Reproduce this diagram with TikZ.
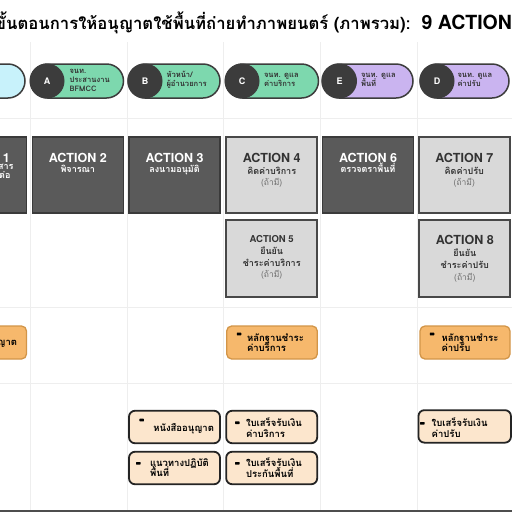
\documentclass[tikz,border=0pt]{standalone}
\usepackage{fontspec}
\newfontfamily\thai[Script=Thai]{Loma}
\newfontfamily\heros{TeX Gyre Heros}
\definecolor{sepc}{HTML}{EEEEEE}
\definecolor{darkbox}{HTML}{5A5A5A}
\definecolor{darkline}{HTML}{3A3A3A}
\definecolor{lightbox}{HTML}{D9D9D9}
\definecolor{lightline}{HTML}{484848}
\definecolor{mint}{HTML}{7DD8AE}
\definecolor{lilac}{HTML}{CAB4F0}
\definecolor{cyanp}{HTML}{C8F2FB}
\definecolor{circc}{HTML}{3C3C3C}
\definecolor{orangef}{HTML}{F6B86C}
\definecolor{oranged}{HTML}{D29548}
\definecolor{beigef}{HTML}{FCE6CD}
\definecolor{beiged}{HTML}{242424}
\definecolor{txtdark}{HTML}{333333}
\definecolor{optgray}{HTML}{6A6A6A}
\begin{document}
\begin{tikzpicture}[x=1pt,y=-1pt,
  tz/.style={inner sep=0pt,outer sep=0pt},
  sepline/.style={draw=sepc,line width=1pt},
  pillbox/.style={tz,draw=circc,line width=1.5pt,minimum height=34pt,rounded corners=17pt},
  circnode/.style={tz,circle,fill=circc,minimum size=35pt,text=white,font=\heros\bfseries\fontsize{9}{9}\selectfont},
  pilltxt/.style={tz,anchor=base west,font=\thai\bfseries\fontsize{7.6}{8}\selectfont,text=txtdark},
  actdark/.style={tz,draw=darkline,fill=darkbox,line width=1.5pt,minimum width=91pt},
  actlight/.style={tz,draw=lightline,fill=lightbox,line width=1.8pt,minimum width=91pt},
  acthead/.style={tz,anchor=base,font=\heros\bfseries\fontsize{12.5}{14}\selectfont},
  actsub/.style={tz,anchor=base,font=\thai\bfseries\fontsize{9}{10}\selectfont},
  opttxt/.style={tz,anchor=base,font=\thai\fontsize{8.5}{10}\selectfont,text=optgray},
  orangebox/.style={tz,draw=oranged,fill=orangef,line width=1.3pt,rounded corners=5pt,minimum height=33pt},
  beigebox/.style={tz,draw=beiged,fill=beigef,line width=1.8pt,rounded corners=6pt,minimum height=32.5pt},
  btxt/.style={tz,anchor=base west,font=\thai\bfseries\fontsize{9.5}{11}\selectfont,text=black},
  bulletmark/.style={tz,fill=black,minimum width=4.5pt,minimum height=2.6pt,rounded corners=0.5pt}
]
\useasboundingbox (0,0) rectangle (512,512);
\fill[white] (0,0) rectangle (512,512);
% separators
\foreach \x in {30,127,223,320,417} \draw[sepline] (\x,42) -- (\x,510);
\foreach \y in {118,307,383} \draw[sepline] (0,\y) -- (512,\y);
\draw[draw=darkline!90,line width=2pt] (0,511) -- (512,511);
% title
\node[tz,anchor=base east] (title) at (512,29.5) {\thai\bfseries\fontsize{16.7}{20}\selectfont ขั้นตอนการให้อนุญาตใช้พื้นที่ถ่ายทำภาพยนตร์ (ภาพรวม):\ \ {\heros\bfseries\fontsize{19.5}{22}\selectfont 9 ACTION}};
% header pills
\node[pillbox,fill=cyanp,minimum width=85pt] (p0) at (-17.5,81) {};
\node[pillbox,fill=mint,minimum width=93pt] (pA) at (77,81) {};
\node[circnode] (cA) at (47,81) {A};
\node[pilltxt] (tA1) at (69.5,73) {จนท.};
\node[pilltxt] (tA2) at (69.5,82) {ประสานงาน};
\node[pilltxt] (tA3) at (69.5,91) {BFMCC};
\node[pillbox,fill=mint,minimum width=92pt] (pB) at (174,81) {};
\node[circnode] (cB) at (145,81) {B};
\node[pilltxt] (tB1) at (166.5,77.5) {หัวหน้า/};
\node[pilltxt] (tB2) at (166.5,86.5) {ผู้อำนวยการ};
\node[pillbox,fill=mint,minimum width=93pt] (pC) at (272,81) {};
\node[circnode] (cC) at (242,81) {C};
\node[pilltxt] (tC1) at (264,77.5) {จนท. ดูแล};
\node[pilltxt] (tC2) at (264,86.5) {ค่าบริการ};
\node[pillbox,fill=lilac,minimum width=91pt] (pE) at (367.5,81) {};
\node[circnode] (cE) at (339.5,81) {E};
\node[pilltxt] (tE1) at (361,77.5) {จนท. ดูแล};
\node[pilltxt] (tE2) at (361,86.5) {พื้นที่};
\node[pillbox,fill=lilac,minimum width=89pt] (pD) at (464.5,81) {};
\node[circnode] (cD) at (437,81) {D};
\node[pilltxt] (tD1) at (457.5,77.5) {จนท. ดูแล};
\node[pilltxt] (tD2) at (457.5,86.5) {ค่าปรับ};
% action boxes row 1
\node[actdark,minimum height=76pt] (a1) at (-19,175) {};
\node[actdark,minimum height=76pt] (a2) at (77.8,175) {};
\node[actdark,minimum height=76pt] (a3) at (174.5,175) {};
\node[actlight,minimum height=76pt] (a4) at (271.7,175) {};
\node[actdark,minimum height=76pt] (a6) at (368,175) {};
\node[actlight,minimum height=76pt] (a7) at (464.3,175) {};
% action boxes row 2
\node[actlight,minimum height=77pt] (a5) at (271.7,258.5) {};
\node[actlight,minimum height=77pt] (a8) at (464.8,258.5) {};
% action texts
\node[acthead,text=white] (a1h) at (-19,162.5) {ACTION 1};
\node[tz,anchor=base east,font=\thai\bfseries\fontsize{9}{10}\selectfont,text=white] (a1s1) at (13.5,169) {ยื่นเอกสาร};
\node[tz,anchor=base east,font=\thai\bfseries\fontsize{9}{10}\selectfont,text=white] (a1s2) at (10.5,178) {ติดต่อ};
\node[acthead,text=white] (a2h) at (77.8,162.5) {ACTION 2};
\node[actsub,text=white] (a2s) at (77.8,172) {พิจารณา};
\node[acthead,text=white] (a3h) at (174.5,162.5) {ACTION 3};
\node[actsub,text=white] (a3s) at (174.5,172) {ลงนามอนุมัติ};
\node[acthead,text=txtdark] (a4h) at (271.7,162.5) {ACTION 4};
\node[actsub,text=txtdark] (a4s) at (271.7,174) {คิดค่าบริการ};
\node[opttxt] (a4o) at (271.7,185) {(ถ้ามี)};
\node[acthead,text=white] (a6h) at (368,162.5) {ACTION 6};
\node[actsub,text=white] (a6s) at (368,172) {ตรวจตราพื้นที่};
\node[acthead,text=txtdark] (a7h) at (464.3,162.5) {ACTION 7};
\node[actsub,text=txtdark] (a7s) at (464.3,174) {คิดค่าปรับ};
\node[opttxt] (a7o) at (464.3,185) {(ถ้ามี)};
\node[tz,anchor=base,font=\heros\bfseries\fontsize{9.5}{11}\selectfont,text=txtdark] (a5h) at (271.7,242.5) {ACTION 5};
\node[actsub,text=txtdark] (a5s1) at (271.7,254.5) {ยืนยัน};
\node[actsub,text=txtdark] (a5s2) at (271.7,266) {ชำระค่าบริการ};
\node[opttxt] (a5o) at (271.7,277) {(ถ้ามี)};
\node[acthead,text=txtdark] (a8h) at (464.8,244.5) {ACTION 8};
\node[actsub,text=txtdark] (a8s1) at (464.8,256) {ยืนยัน};
\node[actsub,text=txtdark] (a8s2) at (464.8,268) {ชำระค่าปรับ};
\node[opttxt] (a8o) at (464.8,280) {(ถ้ามี)};
% orange evidence boxes
\node[orangebox,minimum width=91pt] (o1) at (-19,342.5) {};
\node[btxt,anchor=base east] (o1t) at (17,345.5) {ใบอนุญาต};
\node[orangebox,minimum width=90.6pt] (o4) at (272,342.5) {};
\node[bulletmark] (o4b) at (239,334) {};
\node[btxt] (o4t1) at (247,341) {หลักฐานชำระ};
\node[btxt] (o4t2) at (247,351) {ค่าบริการ};
\node[orangebox,minimum width=90pt] (o7) at (465,342.5) {};
\node[bulletmark] (o7b) at (432,334) {};
\node[btxt] (o7t1) at (441.5,341) {หลักฐานชำระ};
\node[btxt] (o7t2) at (441.5,351) {ค่าปรับ};
% beige document boxes
\node[beigebox,minimum width=91pt] (b3a) at (174.5,427) {};
\node[bulletmark] (b3ab) at (141.7,420) {};
\node[btxt] (b3at) at (153.3,431) {หนังสืออนุญาต};
\node[beigebox,minimum width=91pt] (b4a) at (271.7,427) {};
\node[bulletmark] (b4ab) at (237.3,422.7) {};
\node[btxt] (b4at1) at (246,426) {ใบเสร็จรับเงิน};
\node[btxt] (b4at2) at (246,437) {ค่าบริการ};
\node[beigebox,minimum width=91pt] (b3b) at (174.5,468) {};
\node[bulletmark] (b3bb) at (138.3,463.3) {};
\node[btxt] (b3bt1) at (150,466.5) {แนวทางปฏิบัติ};
\node[btxt] (b3bt2) at (150,476) {พื้นที่};
\node[beigebox,minimum width=91pt] (b4b) at (271.7,468) {};
\node[bulletmark] (b4bb) at (237.3,463.3) {};
\node[btxt] (b4bt1) at (246,466.5) {ใบเสร็จรับเงิน};
\node[btxt] (b4bt2) at (246,477) {ประกันพื้นที่};
\node[beigebox,minimum width=92.5pt] (b7) at (464.7,426.4) {};
\node[bulletmark] (b7b) at (422.3,423.3) {};
\node[btxt] (b7t1) at (431.7,426) {ใบเสร็จรับเงิน};
\node[btxt] (b7t2) at (431.7,437) {ค่าปรับ};
\end{tikzpicture}
\end{document}
